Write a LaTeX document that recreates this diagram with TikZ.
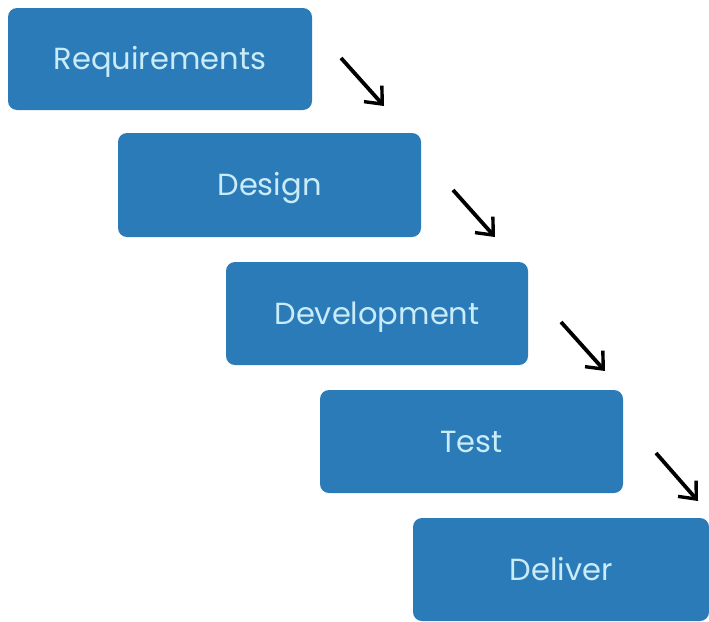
\documentclass[tikz,border=0pt]{standalone}
\usepackage{fontspec}
\setmainfont{Poppins}
\usetikzlibrary{arrows.meta}
\definecolor{boxblue}{HTML}{2C7BB9}
\definecolor{txtblue}{HTML}{C9ECF8}
\begin{document}
\begin{tikzpicture}[x=1pt,y=-1pt,
  stepbox/.style={fill=boxblue, rounded corners=9pt, text=txtblue, font=\fontsize{30.5}{34}\selectfont, inner sep=0pt, text height=28pt, text depth=7pt},
  flow/.style={line width=3.8pt, -{Straight Barb[length=14pt,width=24pt,line width=3.4pt]}, black}]
\useasboundingbox (0,0) rectangle (709,621);
\fill[white] (0,0) rectangle (709,621);
\node[stepbox, minimum width=304pt, minimum height=102pt] (req) at (160,59) {Requirements};
\node[stepbox, minimum width=303pt, minimum height=104pt] (des) at (269.5,185) {Design};
\node[stepbox, minimum width=302pt, minimum height=103pt] (dev) at (377,313.5) {Development};
\node[stepbox, minimum width=303pt, minimum height=103pt] (tst) at (471.5,441.5) {Test};
\node[stepbox, minimum width=296pt, minimum height=103pt] (dlv) at (561,569.5) {Deliver};
\coordinate (a1s) at (341,58); \coordinate (a1e) at (384,106);
\coordinate (a2s) at (453,190); \coordinate (a2e) at (495,237);
\coordinate (a3s) at (561,322); \coordinate (a3e) at (605,371);
\coordinate (a4s) at (656,453); \coordinate (a4e) at (698,501);
\draw[flow] (a1s) -- (a1e);
\draw[flow] (a2s) -- (a2e);
\draw[flow] (a3s) -- (a3e);
\draw[flow] (a4s) -- (a4e);
\end{tikzpicture}
\end{document}
